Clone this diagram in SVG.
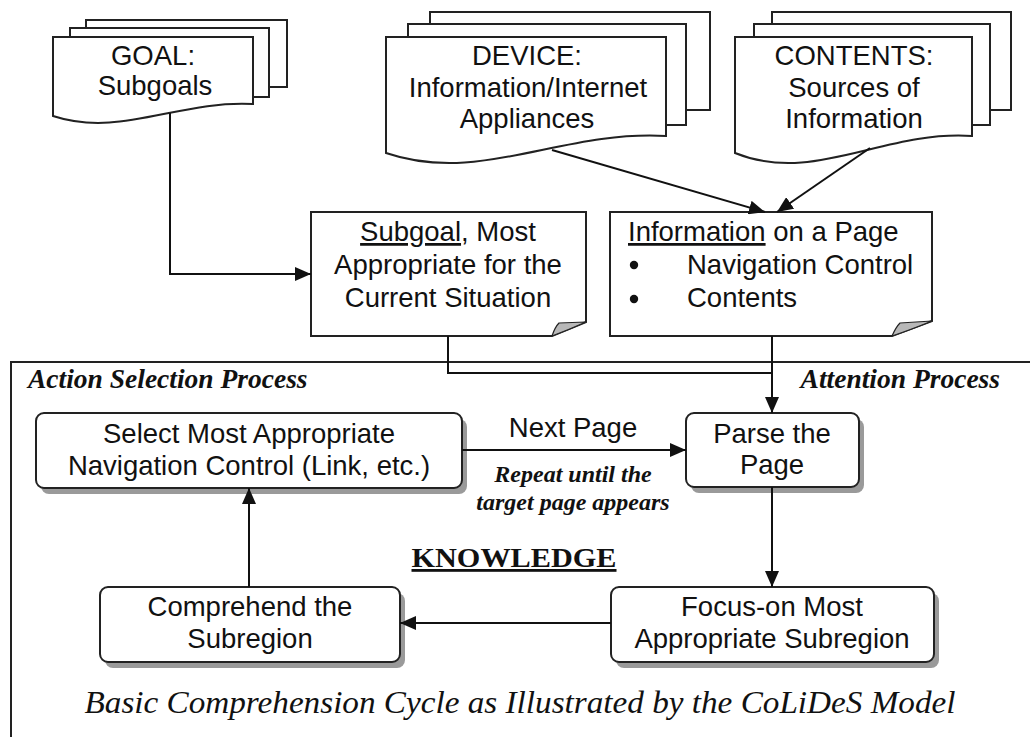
<svg xmlns="http://www.w3.org/2000/svg" width="1030" height="737" viewBox="0 0 1030 737">
<style>
.sheet{fill:#fff;stroke:#222;stroke-width:2}
.note{fill:#fff;stroke:#222;stroke-width:2}
.flap{fill:#b8b8b8;stroke:#222;stroke-width:1.2}
.rbox{fill:#fff;stroke:#222;stroke-width:2}
.shadow{fill:#9a9a9a}
.conn{fill:none;stroke:#111;stroke-width:2}
.sans{font-family:"Liberation Sans",Arial,sans-serif;font-size:27.5px;fill:#111}
.serif{font-family:"Liberation Serif","Times New Roman",serif;fill:#111}
.c{text-anchor:middle}
</style>
<defs>
<marker id="arr" markerUnits="userSpaceOnUse" markerWidth="16" markerHeight="14" refX="16" refY="7" orient="auto">
<path d="M0,0 L16,7 L0,14 Z" fill="#111"/>
</marker>
</defs>
<rect width="1030" height="737" fill="#fff"/>

<g id="frame">
<path d="M11,737 V362 H1030" fill="none" stroke="#222" stroke-width="2"/>
<text class="serif" x="28" y="388" font-size="27.5" font-style="italic" font-weight="bold">Action Selection Process</text>
<text class="serif" x="1000" y="388" font-size="27.5" font-style="italic" font-weight="bold" text-anchor="end">Attention Process</text>
</g>

<g id="goal">
<rect class="sheet" x="86" y="20" width="201" height="67"/>
<rect class="sheet" x="70" y="28" width="199" height="69"/>
<path class="sheet" d="M53,37 H253 V104 C178,100 120,138 53,116 Z"/>
<text class="sans c" x="153" y="65">GOAL:</text>
<text class="sans c" x="155" y="95">Subgoals</text>
</g>

<g id="device">
<rect class="sheet" x="430" y="12" width="280" height="98"/>
<rect class="sheet" x="408" y="24" width="278" height="101"/>
<path class="sheet" d="M386,37 H666 V136 C560,130 480,185 386,153 Z"/>
<text class="sans c" x="527" y="65">DEVICE:</text>
<text class="sans c" x="528" y="97">Information/Internet</text>
<text class="sans c" x="527" y="128">Appliances</text>
</g>

<g id="contents">
<rect class="sheet" x="772" y="12" width="239" height="98"/>
<rect class="sheet" x="754" y="24" width="236" height="101"/>
<path class="sheet" d="M735,37 H972 V136 C883,130 814,185 735,153 Z"/>
<text class="sans c" x="854" y="65">CONTENTS:</text>
<text class="sans c" x="854" y="97">Sources of</text>
<text class="sans c" x="854" y="128">Information</text>
</g>

<g id="subgoal">
<path class="note" d="M311,212 H586 V322 L552,336 H311 Z"/>
<path class="flap" d="M552,336 Q555,327 559,323 L586,322 Q568,330 552,336 Z"/>
<text class="sans c" x="448" y="241"><tspan text-decoration="underline">Subgoal</tspan>, Most</text>
<text class="sans c" x="448" y="274">Appropriate for the</text>
<text class="sans c" x="448" y="307">Current Situation</text>
</g>

<g id="info">
<path class="note" d="M610,212 H932 V321 L892,336 H610 Z"/>
<path class="flap" d="M892,336 Q896,327 900,323 L932,321 Q910,330 892,336 Z"/>
<text class="sans" x="628" y="241"><tspan text-decoration="underline">Information</tspan> on a Page</text>
<circle cx="634" cy="265" r="4.2" fill="#111"/>
<text class="sans" x="687" y="274">Navigation Control</text>
<circle cx="634" cy="299" r="4.2" fill="#111"/>
<text class="sans" x="687" y="307">Contents</text>
</g>

<g id="select">
<rect class="shadow" x="41" y="419" width="426" height="75" rx="8"/>
<rect class="rbox" x="36" y="413" width="426" height="75" rx="8"/>
<text class="sans c" x="249" y="443">Select Most Appropriate</text>
<text class="sans c" x="249" y="475">Navigation Control (Link, etc.)</text>
</g>

<g id="parse">
<rect class="shadow" x="691" y="419" width="173" height="74" rx="8"/>
<rect class="rbox" x="686" y="413" width="173" height="74" rx="8"/>
<text class="sans c" x="772" y="443">Parse the</text>
<text class="sans c" x="772" y="474">Page</text>
</g>

<g id="comprehend">
<rect class="shadow" x="105" y="593" width="300" height="75" rx="8"/>
<rect class="rbox" x="100" y="587" width="300" height="75" rx="8"/>
<text class="sans c" x="250" y="616">Comprehend the</text>
<text class="sans c" x="250" y="648">Subregion</text>
</g>

<g id="focus">
<rect class="shadow" x="616" y="593" width="323" height="75" rx="8"/>
<rect class="rbox" x="611" y="587" width="323" height="75" rx="8"/>
<text class="sans c" x="772" y="616">Focus-on Most</text>
<text class="sans c" x="772" y="648">Appropriate Subregion</text>
</g>

<g id="connectors">
<path class="conn" d="M170,113 V274 H311" marker-end="url(#arr)"/>
<path class="conn" d="M552,150 L765,212" marker-end="url(#arr)"/>
<path class="conn" d="M870,148 L777,212" marker-end="url(#arr)"/>
<path class="conn" d="M448,336 V373 H772"/>
<path class="conn" d="M772,336 V413" marker-end="url(#arr)"/>
<path class="conn" d="M462,450 H686" marker-end="url(#arr)"/>
<path class="conn" d="M772,487 V587" marker-end="url(#arr)"/>
<path class="conn" d="M611,623 H400" marker-end="url(#arr)"/>
<path class="conn" d="M249,587 V488" marker-end="url(#arr)"/>
</g>

<g id="labels">
<text class="sans c" x="573" y="437" font-size="25">Next Page</text>
<text class="serif c" x="573" y="482" font-size="24" font-style="italic" font-weight="bold">Repeat until the</text>
<text class="serif c" x="573" y="510" font-size="24" font-style="italic" font-weight="bold">target page appears</text>
<text class="serif c" x="514" y="567" font-size="28" font-weight="bold" textLength="205" lengthAdjust="spacingAndGlyphs" text-decoration="underline">KNOWLEDGE</text>
<text class="serif c" x="520" y="713" font-size="31" font-style="italic" textLength="871" lengthAdjust="spacingAndGlyphs">Basic Comprehension Cycle as Illustrated by the CoLiDeS Model</text>
</g>
</svg>
